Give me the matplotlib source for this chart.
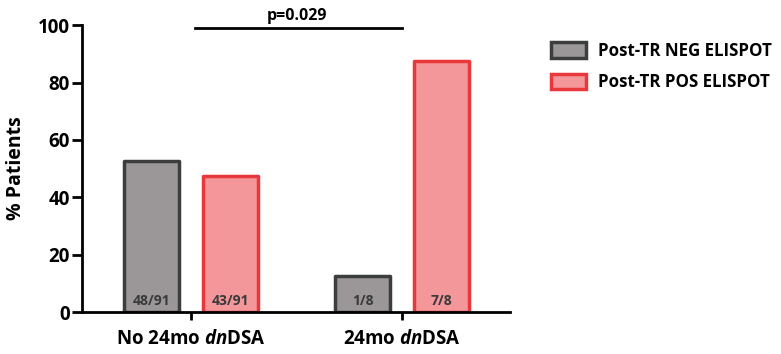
import matplotlib
matplotlib.use("Agg")
import matplotlib.pyplot as plt
import numpy as np

plt.rcParams["font.family"] = ["Open Sans", "DejaVu Sans"]
plt.rcParams["mathtext.fontset"] = "custom"
plt.rcParams["mathtext.it"] = "Open Sans:italic:bold"
plt.rcParams["mathtext.rm"] = "Open Sans:bold"

groups = ["No 24mo $\\it{dn}$DSA", "24mo $\\it{dn}$DSA"]
series = ["Post-TR NEG ELISPOT", "Post-TR POS ELISPOT"]
neg_pct = [52.7, 12.5]
pos_pct = [47.3, 87.5]
neg_counts = ["48/91", "1/8"]
pos_counts = ["43/91", "7/8"]
yticks = [0, 20, 40, 60, 80, 100]
p_text = "p=0.029"

fills = ["#9b9799", "#f4979a"]
edges = ["#3b3e3a", "#e8383c"]

fig = plt.figure(figsize=(7.81, 3.54), dpi=100)
ax = fig.add_axes([0.105, 0.1186, 0.548, 0.8104])

x = np.arange(len(groups))
off, w = 0.187, 0.26
for vals, counts, sign, fc, ec, name in zip([neg_pct, pos_pct], [neg_counts, pos_counts],
                                            [-1, 1], fills, edges, series):
    bars = ax.bar(x + sign * off, vals, w, color=fc, edgecolor=ec, linewidth=2.5,
                  label=name, joinstyle="round")
    for b, c in zip(bars, counts):
        ax.text(b.get_x() + b.get_width() / 2, 4, c, ha="center", va="center",
                fontsize=10, fontweight="bold", color="#3a3a3a")

# significance bar
ax.plot([x[0] + 0.02, x[1] + 0.0], [99, 99], color="black", lw=2, clip_on=False)
ax.text((x[0] + x[1]) / 2, 100.5, p_text, ha="center", va="bottom", fontsize=11.5,
        fontweight="bold")

ax.set_xlim(-0.517, 1.512)
ax.set_ylim(0, 100)
ax.set_yticks(yticks)
ax.set_xticks(x)
ax.set_xticklabels(groups, fontsize=13.5, fontweight="bold")
ax.set_ylabel("% Patients", fontsize=14, fontweight="bold", labelpad=8)
for lab in ax.get_yticklabels():
    lab.set_fontsize(13.5)
    lab.set_fontweight("bold")
ax.tick_params(axis="y", length=7, width=2, pad=2)
ax.tick_params(axis="x", length=6, width=2, pad=6)
for s in ["top", "right"]:
    ax.spines[s].set_visible(False)
for s in ["left", "bottom"]:
    ax.spines[s].set_linewidth(2)

fig.legend(loc="upper left", bbox_to_anchor=(0.686, 0.925), frameon=False,
           prop={"size": 12.2, "weight": "bold"}, handlelength=2.05, handleheight=1.0,
           labelspacing=0.8, handletextpad=0.75)

fig.savefig("out.png", dpi=100)
